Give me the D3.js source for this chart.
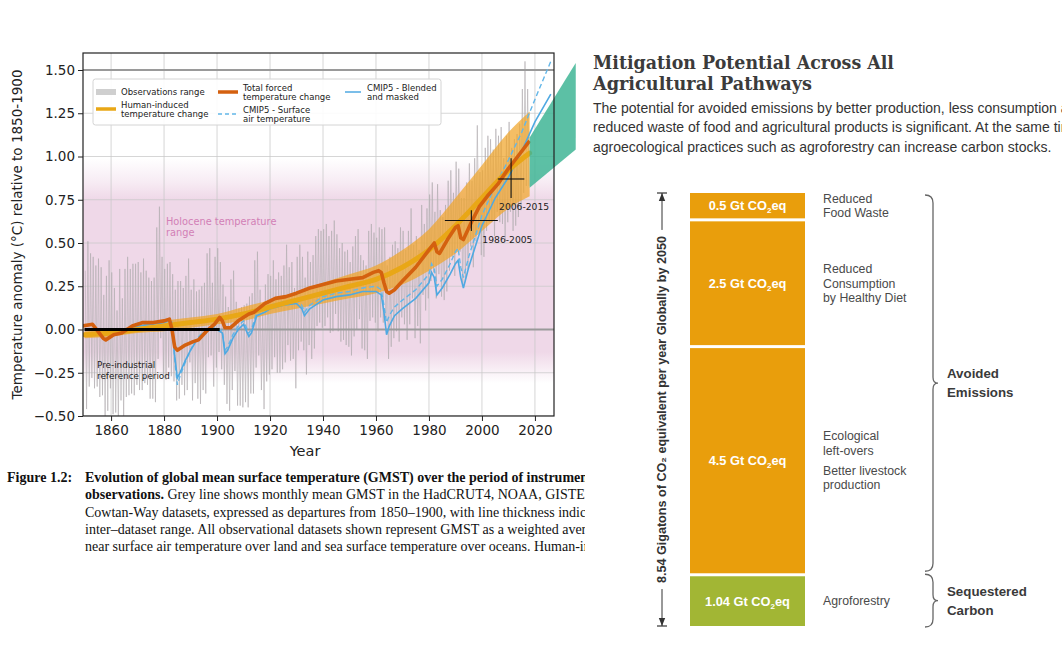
<!DOCTYPE html>
<html><head><meta charset="utf-8">
<script src="https://cdn.jsdelivr.net/npm/d3@7"></script>
<style>body{margin:0;background:#fff;} svg{display:block;}</style>
</head><body>
<svg id="c" width="1062" height="653"></svg>
<script>
// ================= LEFT CHART DATA =================
const obsStartYear = 1850;
const obsHigh = [
 .34,.51,.44,.42,.37,.41,.36,.20,.31,.40,
 .33,.24,.11,.35,.18,.35,.42,.35,.38,.38,
 .39,.33,.41,.34,.30,.28,.30,.59,.71,.42,
 .35,.38,.39,.32,.23,.28,.28,.24,.31,.41,
 .23,.29,.22,.23,.25,.27,.44,.47,.27,.42,
 .47,.39,.26,.19,.13,.29,.34,.16,.12,.13,
 .14,.15,.19,.21,.40,.45,.23,.14,.26,.32,
 .31,.40,.29,.33,.31,.37,.49,.36,.39,.24,
 .42,.49,.42,.30,.45,.39,.43,.54,.58,.57,
 .58,.61,.54,.57,.63,.55,.47,.50,.45,.46,
 .39,.48,.54,.58,.43,.40,.37,.57,.61,.56,
 .53,.59,.58,.59,.37,.42,.49,.51,.47,.59,
 .57,.46,.57,.70,.49,.54,.46,.72,.61,.70,
 .78,.85,.68,.84,.69,.65,.72,.86,.92,.79,
 .97,.93,.76,.76,.85,.96,.86,.99,1.18,.91,
 .92,1.05,1.12,1.10,1.04,1.16,1.12,1.17,.99,1.12,
 1.20,1.05,1.10,1.13,1.19,1.39,1.55,1.39];
const obsLow = [
 -.46,-.33,-.28,-.34,-.33,-.39,-.38,-.52,-.47,-.34,
 -.49,-.48,-.55,-.41,-.52,-.39,-.38,-.37,-.38,-.32,
 -.35,-.35,-.31,-.32,-.40,-.40,-.42,-.17,-.05,-.26,
 -.29,-.22,-.27,-.30,-.41,-.40,-.32,-.38,-.35,-.19,
 -.41,-.31,-.40,-.43,-.35,-.37,-.16,-.15,-.33,-.22,
 -.13,-.23,-.32,-.43,-.47,-.35,-.24,-.44,-.44,-.45,
 -.42,-.45,-.37,-.37,-.22,-.15,-.35,-.46,-.30,-.26,
 -.23,-.16,-.25,-.25,-.23,-.19,-.09,-.18,-.17,-.34,
 -.12,-.07,-.12,-.26,-.09,-.17,-.11,.02,.04,.01,
 .02,.07,-.02,-.01,.09,-.01,-.07,-.06,-.09,-.10,
 -.15,-.04,.00,.06,-.11,-.12,-.17,.05,.07,.04,
 -.01,.07,.04,.07,-.17,-.10,-.05,-.01,-.07,.07,
 .03,-.06,.03,.18,-.05,.02,-.08,.20,.11,.18,
 .28,.33,.18,.32,.19,.17,.22,.34,.42,.31,
 .47,.45,.26,.28,.35,.48,.36,.51,.58,.43,
 .42,.57,.62,.62,.54,.68,.62,.61,.51,.62,
 .68,.57,.60,.65,.69,.79,.83,.83];

const humanYears = [1850,1860,1870,1880,1890,1900,1910,1920,1930,1940,1950,1960,1970,1980,1990,2000,2010,2018];
const humanVals  = [-0.03,-0.02,0.0,0.02,0.04,0.06,0.09,0.13,0.17,0.21,0.25,0.29,0.36,0.46,0.6,0.76,0.92,1.02];
const humanLow   = [-0.05,-0.04,-0.02,-0.01,0.01,0.03,0.05,0.09,0.12,0.15,0.18,0.21,0.26,0.34,0.44,0.57,0.7,0.77];
const humanHigh  = [-0.01,0.0,0.02,0.05,0.07,0.09,0.13,0.17,0.22,0.27,0.32,0.37,0.46,0.58,0.76,0.95,1.14,1.26];

const forcedYears = [1849,1853,1857,1858,1861,1864,1868,1872,1876,1880,1882,1883,1884,1885,1888,1891,1893,1896,1899,1901,1902,1903,1905,1908,1912,1914,1918,1922,1926,1930,1935,1940,1945,1950,1955,1959,1961,1962,1963,1964,1965,1967,1970,1975,1980,1982,1983,1984,1987,1990,1991,1992,1993,1996,1999,2002,2006,2010,2014,2018];
const forcedVals  = [0.02,0.03,-0.05,-0.06,-0.03,-0.02,0.02,0.04,0.04,0.05,0.06,0.0,-0.1,-0.12,-0.09,-0.07,-0.06,-0.01,0.03,0.07,0.05,0.01,0.01,0.05,0.09,0.1,0.15,0.18,0.19,0.21,0.24,0.26,0.28,0.29,0.3,0.33,0.34,0.33,0.27,0.22,0.21,0.23,0.28,0.36,0.46,0.5,0.45,0.44,0.52,0.59,0.6,0.53,0.52,0.62,0.71,0.77,0.84,0.93,1.01,1.09];

const cmipYears   = [1855,1860,1865,1870,1875,1880,1882,1883,1884,1885,1886,1888,1890,1892,1895,1898,1900,1902,1903,1904,1906,1908,1910,1912,1913,1915,1918,1920,1925,1930,1932,1933,1935,1940,1945,1950,1955,1960,1962,1963,1964,1965,1967,1970,1975,1980,1981,1982,1983,1985,1988,1990,1991,1992,1993,1995,2000,2005,2010,2015,2020,2026];
const cmipBlended = [-0.02,-0.03,-0.02,0.02,0.03,0.04,0.05,0.04,-0.15,-0.28,-0.25,-0.18,-0.12,-0.07,-0.02,0.01,0.0,-0.02,-0.14,-0.12,-0.05,0.0,0.03,-0.04,-0.02,0.08,0.1,0.12,0.14,0.15,0.12,0.08,0.12,0.17,0.19,0.2,0.22,0.22,0.2,0.1,-0.03,0.02,0.08,0.12,0.18,0.27,0.33,0.3,0.2,0.24,0.32,0.38,0.4,0.3,0.24,0.36,0.6,0.76,0.88,1.03,1.2,1.36];
const cmipSurface = [-0.02,-0.03,-0.02,0.02,0.03,0.04,0.05,0.04,-0.17,-0.32,-0.27,-0.19,-0.12,-0.06,-0.01,0.02,0.01,-0.01,-0.12,-0.1,-0.03,0.02,0.05,-0.02,0.0,0.1,0.12,0.14,0.16,0.17,0.14,0.1,0.14,0.19,0.21,0.22,0.24,0.25,0.23,0.14,0.04,0.08,0.13,0.17,0.23,0.32,0.38,0.35,0.25,0.29,0.38,0.45,0.47,0.36,0.3,0.42,0.66,0.83,0.98,1.14,1.33,1.55];

const tealYears = [2018, 2035.4];
const tealLow   = [0.82, 1.04];
const tealHigh  = [1.11, 1.54];

const xTicks = [1860,1880,1900,1920,1940,1960,1980,2000,2020];
const yTicks = [-0.5,-0.25,0,0.25,0.5,0.75,1.0,1.25,1.5];
const refLevels = [0, 1.5];
const preIndustrial = [1850, 1901];
const holoceneRange = [-0.25, 0.75];
const periodLabels = ["1986-2005","2006-2015"];
const periodStart  = [1986, 2006];
const periodEnd    = [2006, 2016];
const periodMean   = [0.63, 0.87];
const periodLow    = [0.57, 0.76];
const periodHigh   = [0.69, 0.99];

const legendLabels = [["Observations range"],["Human-induced","temperature change"],["Total forced","temperature change"],["CMIP5 - Surface","air temperature"],["CMIP5 - Blended","and masked"]];
const yAxisTitle = "Temperature anomaly (°C) relative to 1850-1900";
const xAxisTitle = "Year";

// ================= RIGHT CHART DATA =================
const segValues = [0.5, 2.5, 4.5, 1.04];
const segLines = [[["Reduced","Food Waste"]],[["Reduced","Consumption","by Healthy Diet"]],[["Ecological","left-overs"],["Better livestock","production"]],[["Agroforestry"]]];
const groupLabels = [["Avoided","Emissions"],["Sequestered","Carbon"]];
const groupFirst = [0, 3];
const groupLast  = [2, 3];
const rightTitle = ["Mitigation Potential Across All","Agricultural Pathways"];
const rightSub = ["The potential for avoided emissions by better production, less consumption and",
                  "reduced waste of food and agricultural products is significant. At the same time,",
                  "agroecological practices such as agroforestry can increase carbon stocks."];

const captionLines = [
 [["Evolution of global mean surface temperature (GMST) over the period of instrumental",true]],
 [["observations.",true],[" Grey line shows monthly mean GMST in the HadCRUT4, NOAA, GISTEMP and",false]],
 [["Cowtan-Way datasets, expressed as departures from 1850–1900, with line thickness indicating the",false]],
 [["inter–dataset range. All observational datasets shown represent GMST as a weighted average of",false]],
 [["near surface air temperature over land and sea surface temperature over oceans. Human-induced",false]]];

// ================= DRAWING =================
const svg = d3.select("#c");
svg.append("rect").attr("width",1062).attr("height",653).attr("fill","#fff");
const defs = svg.append("defs");
const SANS = "'DejaVu Sans', sans-serif";

const X0=83, X1=554, YT=53, YB=416;
const x = d3.scaleLinear().domain([1849.4, 2027.2]).range([X0, X1]);
const y = d3.scaleLinear().domain([-0.5, 1.5]).range([416, 70]);

defs.append("clipPath").attr("id","plotclip").append("rect")
  .attr("x",X0).attr("y",YT).attr("width",X1-X0).attr("height",YB-YT);

// pink holocene gradient
const gTop = y(holoceneRange[1]+0.24), gBot = y(holoceneRange[0]-0.06);
const grad = defs.append("linearGradient").attr("id","pinkg")
  .attr("gradientUnits","userSpaceOnUse").attr("x1",0).attr("x2",0).attr("y1",gTop).attr("y2",gBot);
const stopAt = v => (y(v)-gTop)/(gBot-gTop);
[[0,0],[stopAt(holoceneRange[1]+0.1),0.5],[stopAt(holoceneRange[1]),1],[stopAt(holoceneRange[0]+0.12),1],[stopAt(holoceneRange[0]+0.02),0.45],[1,0]]
 .forEach(([o,a])=>grad.append("stop").attr("offset",o).attr("stop-color","#efd8e8").attr("stop-opacity",a));

const L = svg.append("g");
const P = L.append("g").attr("clip-path","url(#plotclip)");
P.append("rect").attr("x",X0).attr("width",X1-X0).attr("y",gTop).attr("height",gBot-gTop).attr("fill","url(#pinkg)");

// grid
P.selectAll(".gx").data(xTicks).join("line").attr("x1",d=>x(d)).attr("x2",d=>x(d)).attr("y1",YT).attr("y2",YB)
  .attr("stroke","#c8c8c8").attr("stroke-opacity",0.75).attr("stroke-width",1);
P.selectAll(".gy").data(yTicks).join("line").attr("y1",d=>y(d)).attr("y2",d=>y(d)).attr("x1",X0).attr("x2",X1)
  .attr("stroke","#c8c8c8").attr("stroke-opacity",0.75).attr("stroke-width",1);

// observations
const obsPts = [];
obsHigh.forEach((h,i)=>{ obsPts.push([obsStartYear+i+0.25, h]); obsPts.push([obsStartYear+i+0.75, obsLow[i]]); });
P.append("path").datum(obsPts).attr("fill","none").attr("stroke","#b3adb1").attr("stroke-opacity",0.7).attr("stroke-width",0.9)
  .attr("d", d3.line().x(d=>x(d[0])).y(d=>y(d[1])));

// reference lines
P.selectAll(".ref").data(refLevels).join("line").attr("x1",X0).attr("x2",X1).attr("y1",d=>y(d)).attr("y2",d=>y(d))
  .attr("stroke","#9a9a9a").attr("stroke-width",2.2);

// human band
P.append("path").datum(humanYears.map((yr,i)=>[yr,humanLow[i],humanHigh[i]]))
  .attr("fill","#f0a52a").attr("fill-opacity",0.72)
  .attr("d", d3.area().curve(d3.curveMonotoneX).x(d=>x(d[0])).y0(d=>y(d[1])).y1(d=>y(d[2])));

// CMIP5 lines
P.append("path").datum(cmipYears.map((yr,i)=>[yr,cmipSurface[i]])).attr("fill","none")
  .attr("stroke","#62b6e8").attr("stroke-width",1.4).attr("stroke-dasharray","5,3")
  .attr("d", d3.line().x(d=>x(d[0])).y(d=>y(d[1])));
P.append("path").datum(cmipYears.map((yr,i)=>[yr,cmipBlended[i]])).attr("fill","none")
  .attr("stroke","#4fa9e2").attr("stroke-width",1.6)
  .attr("d", d3.line().x(d=>x(d[0])).y(d=>y(d[1])));

// human line
P.append("path").datum(humanYears.map((yr,i)=>[yr,humanVals[i]])).attr("fill","none")
  .attr("stroke","#e9a716").attr("stroke-width",5).attr("stroke-linecap","round")
  .attr("d", d3.line().curve(d3.curveMonotoneX).x(d=>x(d[0])).y(d=>y(d[1])));

// forced line
P.append("path").datum(forcedYears.map((yr,i)=>[yr,forcedVals[i]])).attr("fill","none")
  .attr("stroke","#d4600f").attr("stroke-width",3.6).attr("stroke-linejoin","round")
  .attr("d", d3.line().x(d=>x(d[0])).y(d=>y(d[1])));

// pre-industrial line
P.append("line").attr("x1",x(preIndustrial[0])).attr("x2",x(preIndustrial[1])).attr("y1",y(0)).attr("y2",y(0))
  .attr("stroke","#000").attr("stroke-width",3);

// period crosses
periodLabels.forEach((lab,i)=>{
  const cx = x((periodStart[i]+periodEnd[i])/2), cy = y(periodMean[i]);
  L.append("line").attr("x1",x(periodStart[i])).attr("x2",x(periodEnd[i])).attr("y1",cy).attr("y2",cy).attr("stroke","#111").attr("stroke-width",1.1);
  L.append("line").attr("x1",cx).attr("x2",cx).attr("y1",y(periodHigh[i])).attr("y2",y(periodLow[i])).attr("stroke","#111").attr("stroke-width",1.1);
  const off = i===0 ? [11, 22] : [-12, 31];
  L.append("text").attr("x",cx+off[0]).attr("y",cy+off[1]).attr("font-family",SANS).attr("font-size",9.2).attr("fill","#222").text(lab);
});

// text annotations
const hol = L.append("text").attr("font-family",SANS).attr("font-size",9.8).attr("fill","#d27fb6");
hol.append("tspan").attr("x",166).attr("y",225).text("Holocene temperature");
hol.append("tspan").attr("x",166).attr("y",236).text("range");
const pre = L.append("text").attr("font-family",SANS).attr("font-size",8.8).attr("fill","#222");
pre.append("tspan").attr("x",97).attr("y",368).text("Pre-industrial");
pre.append("tspan").attr("x",97).attr("y",379).text("reference period");

// teal projection (outside clip)
L.append("path").datum(tealYears.map((yr,i)=>[yr,tealLow[i],tealHigh[i]]))
  .attr("fill","#3fb595").attr("fill-opacity",0.85)
  .attr("d", d3.area().x(d=>x(d[0])).y0(d=>y(d[1])).y1(d=>y(d[2])));

// frame + axes
L.append("rect").attr("x",X0).attr("y",YT).attr("width",X1-X0).attr("height",YB-YT).attr("fill","none").attr("stroke","#222").attr("stroke-width",1.2);
const ax = L.append("g").attr("transform",`translate(0,${YB})`).call(d3.axisBottom(x).tickValues(xTicks).tickFormat(d3.format("d")).tickSize(5).tickPadding(4).tickSizeOuter(0));
const ay = L.append("g").attr("transform",`translate(${X0},0)`).call(d3.axisLeft(y).tickValues(yTicks).tickFormat(d3.format(".2f")).tickSize(5).tickPadding(3).tickSizeOuter(0));
[ax,ay].forEach(a=>{ a.select(".domain").remove(); a.selectAll("text").attr("font-family",SANS).attr("font-size",13.5).attr("fill","#222"); a.selectAll("line").attr("stroke","#222"); });
L.append("text").attr("transform",`translate(17,${(YT+YB)/2}) rotate(-90)`).attr("text-anchor","middle").attr("dy","0.35em")
  .attr("font-family",SANS).attr("font-size",13.5).attr("fill","#222").text(yAxisTitle);
L.append("text").attr("x",305).attr("y",456).attr("text-anchor","middle").attr("font-family",SANS).attr("font-size",14.5).attr("fill","#222").text(xAxisTitle);

// legend
const lg = L.append("g");
lg.append("rect").attr("x",93).attr("y",79).attr("width",348).attr("height",46).attr("rx",2.5).attr("fill","#fff").attr("fill-opacity",0.9).attr("stroke","#d4d4d4");
const legPos = [[96,92],[96,109],[218,92],[218,114],[345,92]];
legendLabels.forEach((lines,i)=>{
  const [lx,ly] = legPos[i];
  const w = i===4 ? 16 : 20;
  if(i===0) lg.append("rect").attr("x",lx).attr("y",ly-3).attr("width",w).attr("height",6).attr("fill","#cfcfcf");
  else {
    const st = [null,{c:"#e9a716",w:3.5},{c:"#d4600f",w:3.5},{c:"#62b6e8",w:1.4,d:"4,3"},{c:"#4fa9e2",w:1.5}][i];
    lg.append("line").attr("x1",lx).attr("x2",lx+w).attr("y1",ly).attr("y2",ly).attr("stroke",st.c).attr("stroke-width",st.w).attr("stroke-dasharray",st.d||null);
  }
  const t = lg.append("text").attr("font-family",SANS).attr("font-size",8.5).attr("fill","#222");
  const tx = lx + w + (i===4 ? 6 : 5);
  const y0 = lines.length===1 ? ly+3 : ly-1.5;
  lines.forEach((ln,j)=>t.append("tspan").attr("x",tx).attr("y",y0+j*9.8).text(ln));
});

// caption
defs.append("clipPath").attr("id","capclip").append("rect").attr("x",0).attr("y",460).attr("width",585).attr("height",120);
const cap = svg.append("g").attr("clip-path","url(#capclip)").attr("font-family","'Liberation Serif', 'Times New Roman', serif").attr("font-size",14).attr("fill","#111");
cap.append("text").attr("x",7).attr("y",482).attr("font-weight","bold").text("Figure 1.2:");
captionLines.forEach((parts,i)=>{
  const t = cap.append("text").attr("x",85).attr("y",482+i*17.3);
  parts.forEach(([s,b])=>t.append("tspan").attr("font-weight",b?"bold":"normal").text(s));
});

// ================= RIGHT CHART =================
const R = svg.append("g");
const RS = "'Liberation Sans', Arial, sans-serif";
const tt = R.append("text").attr("font-family","'DejaVu Serif', serif").attr("font-weight","bold").attr("font-size",18.5).attr("fill","#3b3b3b");
tt.append("tspan").attr("x",593).attr("y",69).attr("textLength",301).attr("lengthAdjust","spacingAndGlyphs").text(rightTitle[0]);
tt.append("tspan").attr("x",593).attr("y",90).attr("textLength",219).attr("lengthAdjust","spacingAndGlyphs").text(rightTitle[1]);
rightSub.forEach((s,i)=>R.append("text").attr("x",593).attr("y",113+i*19.3).attr("font-family",RS).attr("font-size",14).attr("fill","#333").text(s));

const total = d3.sum(segValues);
const yb = d3.scaleLinear().domain([0,total]).range([626,193]);
const BX0 = 690, BX1 = 805;
let cum = 0;
segValues.forEach((v,i)=>{
  const top = yb(total-cum), bot = yb(total-cum-v);
  cum += v;
  const gap = i===0 ? 0 : 3;
  const col = i===segValues.length-1 ? "#a2b634" : "#e99e0c";
  R.append("rect").attr("x",BX0).attr("y",top+gap).attr("width",BX1-BX0).attr("height",bot-top-gap).attr("fill",col);
  const mid = (top+gap+bot)/2;
  const lt = R.append("text").attr("x",(BX0+BX1)/2).attr("y",mid).attr("dy","0.35em").attr("text-anchor","middle")
    .attr("font-family",RS).attr("font-weight","bold").attr("font-size",12.8).attr("fill","#fff");
  lt.append("tspan").text(`${v} Gt CO`);
  lt.append("tspan").attr("font-size",8).attr("dy",3).text("2");
  lt.append("tspan").attr("dy",-3).text("eq");
  // side labels
  const blocks = segLines[i];
  const lh = 14.5, bg = 5.5;
  const nLines = d3.sum(blocks, b=>b.length);
  const h = (nLines-1)*lh + (blocks.length-1)*bg;
  let yy = mid - h/2;
  const st = R.append("text").attr("font-family",RS).attr("font-size",12.3).attr("fill","#4a4a4a");
  blocks.forEach((b,bi)=>{
    b.forEach(ln=>{ st.append("tspan").attr("x",823).attr("y",yy).attr("dy","0.35em").text(ln); yy += lh; });
    yy += bg;
  });
});

// braces
groupLabels.forEach((lab,gi)=>{
  let before = d3.sum(segValues.slice(0,groupFirst[gi]));
  let upto = d3.sum(segValues.slice(0,groupLast[gi]+1));
  const yt = yb(total-before)+ (gi===0?2:1), ybt = yb(total-upto) + (gi===0?-2:1);
  const xl=925, xm=933, xt=938, ym=(yt+ybt)/2;
  R.append("path").attr("fill","none").attr("stroke","#666").attr("stroke-width",1.3)
    .attr("d",`M${xl},${yt} Q${xm},${yt} ${xm},${yt+8} L${xm},${ym-6} Q${xm},${ym} ${xt},${ym} Q${xm},${ym} ${xm},${ym+6} L${xm},${ybt-8} Q${xm},${ybt} ${xl},${ybt}`);
  const bt = R.append("text").attr("font-family",RS).attr("font-weight","bold").attr("font-size",13.3).attr("fill","#3a3a3a");
  lab.forEach((ln,j)=>bt.append("tspan").attr("x",947).attr("y",ym-9.5+j*19).attr("dy","0.35em").text(ln));
});

// vertical total axis
const AX = 662, midY = (yb(0)+yb(total))/2;
const axT = R.append("text").attr("transform",`translate(${AX},${midY}) rotate(-90)`).attr("text-anchor","middle").attr("dy","0.35em")
  .attr("font-family",RS).attr("font-weight","bold").attr("font-size",12.6).attr("fill","#333")
  .text(`${d3.format(".2f")(total)} Gigatons of CO₂ equivalent per year Globally by 2050`);
const tl = axT.node().getComputedTextLength();
R.append("line").attr("x1",AX).attr("x2",AX).attr("y1",yb(total)).attr("y2",midY-tl/2-6).attr("stroke","#333").attr("stroke-width",1);
R.append("line").attr("x1",AX).attr("x2",AX).attr("y1",midY+tl/2+6).attr("y2",yb(0)).attr("stroke","#333").attr("stroke-width",1);
[[yb(total),1],[yb(0),-1]].forEach(([yy,s])=>{
  R.append("line").attr("x1",AX-5).attr("x2",AX+5).attr("y1",yy).attr("y2",yy).attr("stroke","#333").attr("stroke-width",1.2);
  R.append("path").attr("d",`M${AX},${yy} L${AX-3.2},${yy+s*8} L${AX+3.2},${yy+s*8} Z`).attr("fill","#333");
});
</script></body></html>
